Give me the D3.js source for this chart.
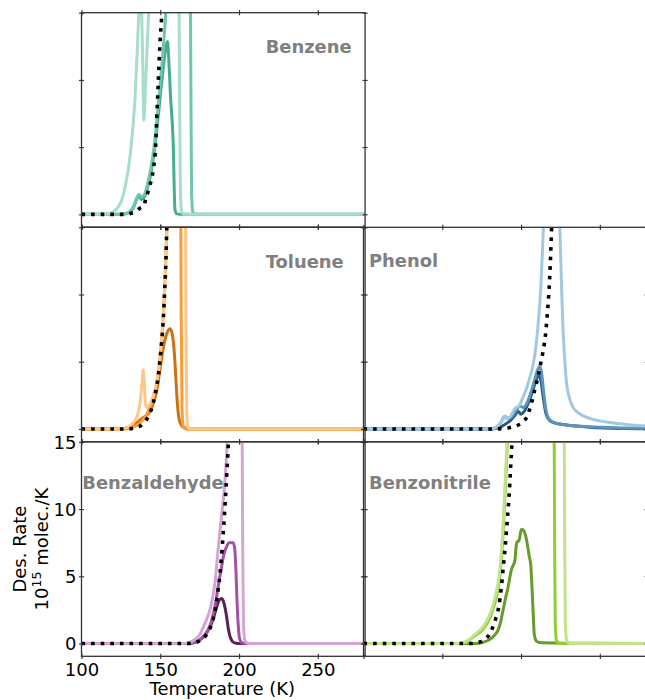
<!DOCTYPE html>
<html>
<head>
<meta charset="utf-8">
<script src="https://cdn.jsdelivr.net/npm/d3@7"></script>
<style>
  html, body { margin: 0; padding: 0; background: #fff; }
  svg { display: block; font-family: "DejaVu Sans", sans-serif; }
</style>
</head>
<body>
<svg id="chart" width="645" height="700"></svg>
<script>
// ---------------- DATA (Temperature K, Des. rate 1e15 molec./K) ----------------
const xTicks = [100, 150, 200, 250];
const yTicks = [0, 5, 10, 15];
const xTickLabels = ["100", "150", "200", "250"];
const yTickLabels = ["0", "5", "10", "15"];
const panelNames = ["Benzene", "Toluene", "Phenol", "Benzaldehyde", "Benzonitrile"];

// Benzene
const benzeneLight = [[100,0],[114,0],[118,0.08],[120.2,0.2],[123,0.5],[125.5,1.07],[128,2.2],[130.8,4.3],[133.9,8.5],[135.4,12.2],[136.5,15.5],[137.3,17],[138.2,15],[139,10.5],[139.6,7],[140.5,9],[141.5,12],[142.6,15],[144,18],[146,20],[161.6,20],[162.3,8],[162.8,1.5],[163.6,0.2],[165,0.02],[170,0],[280,0]];
const benzeneMid = [[100,0],[125,0],[130,0.15],[133,0.6],[135,1.2],[136.5,1.5],[138,1.3],[140,1.5],[142,2.3],[144,3.4],[146,5],[148,7.2],[150,9.8],[152,12.5],[153.5,15],[155,19],[157,20],[168.9,20],[169.5,8],[169.9,1.5],[170.6,0.2],[172,0.02],[175,0],[280,0]];
const benzeneDark = [[100,0],[125,0],[130,0.1],[133,0.5],[135,1.1],[136.5,1.35],[138,1.1],[140,1.3],[142,2.0],[144,3.0],[146,4.5],[148,6.5],[150,8.8],[152,11],[153.5,12.4],[154.6,12.85],[155.4,11.5],[156.4,9],[158.2,5.3],[159.3,0.4],[160.3,0.05],[162,0],[280,0]];
const benzeneModel = [[100,0],[128,0],[132,0.1],[135,0.25],[137,0.45],[139.2,0.6],[141,1.2],[143,2.0],[145.5,3.3],[147,5.0],[147.7,7.0],[148.7,9.75],[149.8,12.7],[150.9,14.7],[152,17]];

// Toluene
const tolueneLight = [[100,0],[124,0],[128,0.1],[131,0.25],[133.5,0.55],[135.5,1.0],[137,1.8],[138.3,3.2],[139.2,4.4],[139.9,3.3],[140.6,1.9],[141.5,1.6],[143,1.8],[144.5,2.1],[146.6,2.9],[148.7,4.2],[149.8,5.3],[150.9,6.7],[151.9,8.3],[152.8,10.5],[153.6,12.8],[154.2,15],[155,18],[156,20],[165.8,20],[166.3,8],[166.8,1.5],[167.5,0.2],[169,0],[280,0]];
const tolueneMid = [[100,0],[128,0],[132,0.1],[135,0.25],[138,0.55],[141,1.0],[143,1.5],[145,2.1],[146.6,2.8],[148.7,4.1],[149.8,5.3],[150.9,6.7],[151.9,8.3],[152.8,10.5],[153.6,12.8],[154.2,15],[155,18],[156,20],[162.8,20],[163.3,8],[163.8,1.5],[164.5,0.2],[166,0],[280,0]];
const tolueneDark = [[100,0],[126,0],[130,0.08],[133,0.25],[135,0.45],[138,0.75],[141,1.0],[143.4,1.3],[145.5,1.9],[147.7,2.8],[149.5,4.2],[150.9,5.3],[152.9,6.6],[154.5,7.2],[156.1,7.45],[157.3,7.2],[158.2,6.6],[159.3,5.0],[160.4,2.7],[161.2,1.4],[162,0.7],[163.5,0.25],[165.6,0.08],[168,0],[280,0]];
const tolueneModel = [[100,0],[130,0],[134,0.08],[137,0.2],[139.5,0.45],[141.3,0.7],[143,1.1],[144.5,1.5],[146.6,2.5],[148.7,3.9],[149.8,5.1],[150.9,6.5],[151.9,8.1],[152.8,10.3],[153.6,12.6],[154.1,14.9],[154.6,17]];

// Phenol
const phenolLight = [[100,0],[180,0],[183,0.05],[186,0.3],[188.5,0.7],[189.7,0.95],[191,0.75],[193,0.9],[196,1.5],[199.2,1.8],[201,2.3],[203.5,3.0],[205.5,3.8],[207.7,4.8],[209.5,6.2],[211,8.0],[212.5,10.5],[213.5,13],[214.2,15],[215,18],[216,20],[223.5,20],[224.6,15],[225.7,10.6],[226.7,7.2],[227.8,5],[228.8,3.5],[230.5,2.4],[233,1.6],[237,1.15],[242,0.85],[250,0.6],[260,0.42],[270,0.3],[280,0.22]];
const phenolMid = [[100,0],[181,0],[184,0.1],[187,0.45],[189.7,0.95],[191.5,0.8],[194,0.9],[197,1.4],[199.2,1.7],[201.5,1.6],[204,2.0],[206.5,2.8],[208.5,3.6],[210.5,4.4],[211.9,4.65],[213,4.2],[214.3,2.8],[215.7,1.5],[217,0.9],[219,0.6],[223,0.4],[230,0.27],[240,0.18],[255,0.1],[280,0.05]];
const phenolDark = [[100,0],[182,0],[186,0.1],[190,0.35],[193,0.6],[196,1.0],[198.2,1.3],[200,1.1],[202,1.3],[204.5,1.9],[207,2.7],[209.5,3.6],[211.4,4.0],[212.6,3.6],[214,2.4],[215.7,1.2],[217.3,0.75],[218.9,0.57],[223,0.4],[230,0.28],[237.2,0.2],[250,0.08],[265,0.03],[280,0]];
const phenolModel = [[100,0],[184,0],[188,0.04],[192.9,0.1],[196,0.2],[199.2,0.35],[201.5,0.55],[203.5,0.85],[205,1.3],[206.6,1.9],[208.7,2.9],[210.8,3.9],[212.5,4.9],[214,5.8],[215.5,7.0],[216.5,8.3],[217.4,9.7],[218.2,11.3],[218.8,13],[219.4,15],[220,17]];

// Benzaldehyde
const benzaldehydeLight = [[100,0],[165,0],[169,0.1],[172,0.3],[175.1,0.67],[178,1.4],[181.5,2.5],[184.7,4.5],[186.7,7],[188.9,9.5],[191,12],[192.5,15],[194,19],[195,20],[201.7,20],[202.3,8],[202.8,1.5],[203.7,0.2],[206,0],[280,0]];
const benzaldehydeMid = [[100,0],[167,0],[171,0.08],[174,0.2],[177,0.45],[180,0.95],[182,1.5],[184,2.4],[185.5,3.3],[186.7,4.2],[188.9,5.7],[190.5,6.7],[192.1,7.2],[193.5,7.5],[196.3,7.5],[197.3,7.0],[198,5.5],[198.6,3.5],[199.4,1.5],[200.5,0.3],[202,0.05],[204,0],[280,0]];
const benzaldehydeDark = [[100,0],[168,0],[172,0.08],[175,0.25],[178,0.6],[181,1.1],[183.5,1.8],[185.5,2.6],[187.3,3.2],[188.9,3.35],[190.2,3.1],[191.2,2.6],[192.1,2.0],[193.2,1.1],[194.2,0.55],[195.3,0.25],[196.3,0.1],[198,0.02],[200,0],[280,0]];
const benzaldehydeModel = [[100,0],[168,0],[171,0.05],[174,0.15],[177.2,0.35],[179.5,0.7],[181.5,1.1],[183.5,1.8],[185,2.6],[186.7,4.0],[188,5.3],[189.2,7.0],[190.2,8.6],[191.3,10.7],[192.2,12.6],[193.2,14.9],[193.8,17]];

// Benzonitrile
const benzonitrileLight = [[100,0],[160,0],[164,0.08],[167.6,0.35],[171,0.7],[175.5,1.2],[178.3,1.7],[181,2.4],[184,3.7],[186.3,5.2],[187.5,6.8],[188.4,8.5],[189.5,11],[190.6,13.8],[191.4,15.8],[193,19],[194,20],[227.2,20],[227.7,8],[228.1,1.5],[229,0.2],[231,0],[280,0]];
const benzonitrileMid = [[100,0],[160,0],[164,0.05],[167.6,0.3],[171,0.6],[175.9,1.05],[178.5,1.5],[181.2,2.2],[184.4,3.5],[186.6,5.0],[187.7,6.5],[188.6,8.2],[189.7,10.7],[190.8,13.5],[191.6,15.5],[193,19],[194,20],[220.8,20],[221.3,8],[221.7,1.5],[222.5,0.2],[224,0],[280,0]];
const benzonitrileDark = [[100,0],[172,0],[176,0.1],[180.1,0.3],[183,0.6],[185.4,1.0],[187,1.6],[188.6,2.5],[190.2,3.4],[191.8,4.2],[193,5.0],[193.9,5.5],[195,5.8],[196.1,6.2],[196.7,7.0],[197.3,7.5],[198.8,7.7],[199.6,8.2],[200.3,8.5],[201.8,8.4],[202.7,8.1],[203.5,7.7],[204.5,7.0],[205.2,6.5],[206.2,5.8],[206.8,4.5],[207.3,3.3],[207.8,2.0],[208.3,0.8],[209,0.35],[209.8,0.17],[212,0.08],[222,0.04],[235,0.02],[280,0]];
const benzonitrileModel = [[100,0],[168,0],[170.6,0.05],[173,0.1],[175.9,0.2],[178,0.4],[180.1,0.7],[182,1.2],[183.8,1.8],[185.8,2.7],[187.5,4.2],[188.8,5.8],[190,7.3],[191,8.8],[192,10.3],[192.8,11.8],[193.5,13.4],[194.2,14.9],[194.8,17]];

// ---------------- STYLE / LAYOUT ----------------
const panelSeries = [
  [benzeneDark, benzeneMid, benzeneLight, benzeneModel],
  [tolueneDark, tolueneMid, tolueneLight, tolueneModel],
  [phenolDark, phenolMid, phenolLight, phenolModel],
  [benzaldehydeDark, benzaldehydeMid, benzaldehydeLight, benzaldehydeModel],
  [benzonitrileDark, benzonitrileMid, benzonitrileLight, benzonitrileModel]
];
const panelColors = [
  ["#45ad92", "#6fc5ae", "#a7dccf"],
  ["#cc7212", "#fd9b35", "#fec786"],
  ["#2b5b7e", "#5b93bf", "#a3c9e2"],
  ["#5c2154", "#a451a4", "#d3a5d3"],
  ["#689a2c", "#8fce2f", "#c2e38a"]
];
const panelPos = [ // [col,row]
  [0,0],[0,1],[1,1],[0,2],[1,2]
];
const labelPos = [ // [dx from panel left, baseline dy from panel top]
  [184.2, 40], [184.2, 40.4], [5.5, 39.5], [0.8, 47.2], [5.5, 47.2]
];

const colX = [81.5, 363.5];
const rowY = [12.7, 227.3, 441.9];
const PW = 283.6, PH = 214.4;
const yDomain = [-0.95, 15];
const xDomain = [100, 280];
const FS = 18;

const svg = d3.select("#chart");

panelNames.forEach((name, i) => {
  const [c, r] = panelPos[i];
  const x0 = colX[c], y0 = rowY[r];
  const x = d3.scaleLinear().domain(xDomain).range([x0, x0 + PW]);
  const y = d3.scaleLinear().domain(yDomain).range([y0 + PH, y0]);
  const g = svg.append("g");

  const clipId = "clip" + i;
  svg.append("clipPath").attr("id", clipId)
    .append("rect").attr("x", x0).attr("y", y0).attr("width", PW).attr("height", PH);

  const line = d3.line().x(d => x(d[0])).y(d => y(d[1])).curve(d3.curveMonotoneX);
  const plot = g.append("g").attr("clip-path", `url(#${clipId})`);
  const series = panelSeries[i];
  series.slice(0, 3).forEach((s, k) => {
    plot.append("path").datum(s).attr("d", line)
      .attr("fill", "none").attr("stroke", panelColors[i][k])
      .attr("stroke-width", 3).attr("stroke-linejoin", "round").attr("stroke-linecap", "butt");
  });
  plot.append("path").datum(series[3]).attr("d", line)
    .attr("fill", "none").attr("stroke", "#000").attr("stroke-width", 3.6)
    .attr("stroke-dasharray", "3.6,6");

  // axes (ticks inout on all sides)
  const showX = (i === 3), showY = (i === 3);
  const axB = g.append("g").attr("transform", `translate(0,${y0 + PH})`)
    .call(d3.axisBottom(x).tickValues(xTicks).tickSize(0).tickFormat((d, j) => showX ? xTickLabels[j] : ""));
  const axT = g.append("g").attr("transform", `translate(0,${y0})`)
    .call(d3.axisTop(x).tickValues(xTicks).tickSize(0).tickFormat(""));
  const axL = g.append("g").attr("transform", `translate(${x0},0)`)
    .call(d3.axisLeft(y).tickValues(yTicks).tickSize(0).tickFormat((d, j) => showY ? yTickLabels[j] : ""));
  const axR = g.append("g").attr("transform", `translate(${x0 + PW},0)`)
    .call(d3.axisRight(y).tickValues(yTicks).tickSize(0).tickFormat(""));
  [axB, axT, axL, axR].forEach(a => a.select(".domain").remove());
  [axB, axT].forEach(a => a.selectAll(".tick line").attr("y1", -2.6).attr("y2", 2.6)
    .attr("stroke", "#333").attr("stroke-width", 1.1));
  [axL, axR].forEach(a => a.selectAll(".tick line").attr("x1", -2.6).attr("x2", 2.6)
    .attr("stroke", "#333").attr("stroke-width", 1.1));
  axB.selectAll(".tick text").attr("y", 6.8).attr("dy", "0.71em")
    .attr("font-size", FS).attr("font-family", "DejaVu Sans").attr("fill", "#000");
  axL.selectAll(".tick text").attr("x", -5).attr("dy", "0.35em")
    .attr("font-size", FS).attr("font-family", "DejaVu Sans").attr("fill", "#000");

  // spines
  g.append("rect").attr("x", x0).attr("y", y0).attr("width", PW).attr("height", PH)
    .attr("fill", "none").attr("stroke", "#333").attr("stroke-width", 1.3);

  // panel label
  g.append("text").attr("x", x0 + labelPos[i][0]).attr("y", y0 + labelPos[i][1])
    .attr("font-family", "DejaVu Sans").attr("font-weight", "bold")
    .attr("font-size", 17.9).attr("fill", "#808080").text(name);
});

// axis labels
const bx = colX[0] + PW / 2 - 1;
svg.append("text").attr("x", bx).attr("y", 695).attr("text-anchor", "middle")
  .attr("font-size", FS).attr("font-family", "DejaVu Sans").text("Temperature (K)");

const cy = rowY[2] + PH / 2;
svg.append("text").attr("transform", `translate(26,${cy}) rotate(-90)`)
  .attr("text-anchor", "middle").attr("font-size", FS).attr("font-family", "DejaVu Sans")
  .text("Des. Rate");
const yl2 = svg.append("text").attr("transform", `translate(48,${cy}) rotate(-90)`)
  .attr("text-anchor", "middle").attr("font-size", FS).attr("font-family", "DejaVu Sans");
yl2.append("tspan").text("10");
yl2.append("tspan").attr("font-size", FS * 0.7).attr("dy", -7).text("15");
yl2.append("tspan").attr("dy", 7).text(" molec./K");
</script>
</body>
</html>
